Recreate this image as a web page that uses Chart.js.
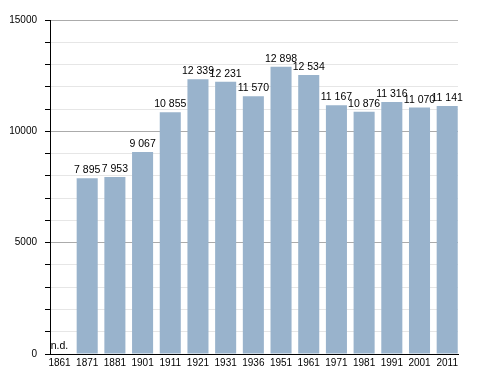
<!DOCTYPE html>
<html>
<head>
<meta charset="utf-8">
<script src="https://cdn.jsdelivr.net/npm/chart.js@4.4.1/dist/chart.umd.min.js"></script>
<style>
  html, body { margin: 0; padding: 0; background: #fff; }
  #wrap { width: 488px; height: 373px; position: relative; }
</style>
</head>
<body>
<div id="wrap"><canvas id="pop-chart"></canvas></div>
<script>
// census years and inhabitants (null = no data, shown as "n.d.")
const years = ['1861', '1871', '1881', '1901', '1911', '1921', '1931', '1936',
  '1951', '1961', '1971', '1981', '1991', '2001', '2011'];
const population = [null, 7895, 7953, 9067, 10855, 12339, 12231, 11570,
  12898, 12534, 11167, 10876, 11316, 11070, 11141];
const yTickLabels = [0, 5000, 10000, 15000];

const barColor = 'rgb(153, 179, 204)';
const font = { family: '"Liberation Sans", Arial, sans-serif', size: 10 };

function formatNumber(v) {
  return String(v).replace(/\B(?=(\d{3})+(?!\d))/g, ' ');
}

// writes the value above each bar, "n.d." where there is none
const valueLabels = {
  id: 'valueLabels',
  afterDatasetsDraw(chart) {
    const ctx = chart.ctx;
    const meta = chart.getDatasetMeta(0);
    const yScale = chart.scales.y;
    ctx.save();
    ctx.font = '10.5px ' + font.family;
    ctx.fillStyle = '#000';
    ctx.textAlign = 'center';
    ctx.textBaseline = 'alphabetic';
    meta.data.forEach((bar, i) => {
      let v = population[i];
      if (v == null) {
        ctx.fillText('n.d.', bar.x, yScale.getPixelForValue(0) - 5);
      } else {
        ctx.fillText(formatNumber(v), bar.x, bar.y - 5);
      }
    });
    ctx.restore();
  }
};

const data = {
  datasets: [
    {
      label: 'Abitanti',
      data: population.map((v, i) => ({ x: i, y: v })),
      backgroundColor: barColor,
      borderWidth: 0,
      categoryPercentage: 1,
      barPercentage: 0.76,
    },
  ],
};

const config = {
  type: 'bar',
  data: data,
  plugins: [valueLabels],
  options: {
    responsive: true,
    maintainAspectRatio: false,
    animation: false,
    layout: { padding: { top: 20, right: 30, left: 0, bottom: 0 } },
    plugins: {
      legend: { display: false },
      tooltip: { enabled: false }
    },
    scales: {
      x: {
        type: 'linear',
        bounds: 'data',
        min: -0.343,
        max: 14.39,
        offset: false,
        grid: { display: false, drawTicks: false },
        border: { display: true, color: '#000', width: 1 },
        ticks: {
          autoSkip: false,
          maxRotation: 0,
          padding: 3,
          color: '#000',
          font: font,
          callback: (v) => years[v]
        },
        afterBuildTicks: (scale) => {
          scale.ticks = years.map((y, i) => ({ value: i }));
        },
        afterFit: (scale) => {
          scale.height = 19;
          scale.paddingLeft = 0;
          scale.paddingRight = 0;
        }
      },
      y: {
        min: 0,
        max: 15000,
        grid: {
          color: (c) => yTickLabels.includes(c.tick.value) ? '#ababab' : '#e6e6e6',
          tickColor: '#000',
          tickLength: 5
        },
        border: { display: true, color: '#000', width: 1 },
        ticks: {
          stepSize: 1000,
          padding: 8,
          color: '#000',
          font: font,
          callback: (v) => yTickLabels.includes(v) ? String(v) : ''
        },
        afterFit: (scale) => {
          scale.width = 50;
          scale.paddingTop = 0;
          scale.paddingBottom = 0;
        }
      }
    }
  },
};

const popChart = new Chart(document.getElementById('pop-chart'), config);
</script>
</body>
</html>
